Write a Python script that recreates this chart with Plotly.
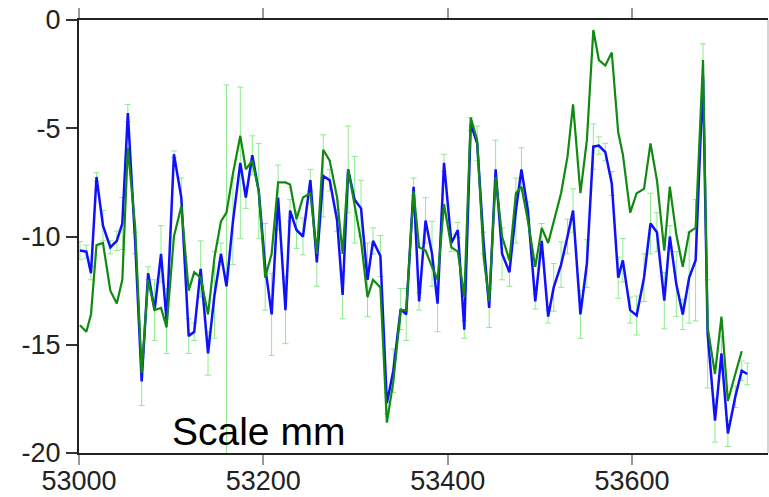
import plotly.graph_objects as go

# Epoch (MJD) of each sample
mjd = [
    53001, 53008, 53013, 53019, 53026, 53034, 53041, 53047, 53053, 53061,
    53068, 53075, 53082, 53089, 53095, 53103, 53111, 53119, 53125, 53132,
    53140, 53147, 53154, 53160, 53167,
    53175, 53181, 53188, 53195, 53202, 53209, 53216, 53224, 53229, 53236,
    53243, 53251, 53258, 53265, 53272, 53280, 53286, 53292, 53299, 53306,
    53313, 53319, 53327, 53334, 53341, 53349,
    53355, 53363, 53369, 53376, 53383, 53389, 53396, 53404, 53411, 53418,
    53425, 53432, 53439, 53445, 53452, 53459, 53467, 53474, 53480, 53487,
    53495, 53502, 53509, 53515, 53523, 53530,
    53536, 53544, 53551, 53558, 53564, 53571, 53578, 53585, 53590, 53598,
    53605, 53613, 53620, 53627, 53635, 53641, 53648, 53655, 53662, 53669,
    53677, 53682, 53690, 53697, 53704, 53712, 53719, 53725,
]

# Measured offset (mm)
measured = [
    -10.65, -10.7, -11.7, -7.25, -9.5, -10.5, -10.2, -9.4, -4.3, -10.3,
    -16.7, -11.7, -13.4, -10.8, -13.9, -6.2, -8.2, -14.6, -14.4, -11.5,
    -15.4, -12.7, -10.8, -12.3, -9.3,
    -6.6, -8.2, -6.25, -7.9, -11.4, -13.6, -8.2, -13.4, -8.8, -9.7,
    -10.0, -7.4, -11.2, -7.2, -7.4, -9.26, -12.7, -6.9, -8.3, -8.7,
    -12.0, -10.2, -10.9, -17.7, -16.2, -13.35,
    -13.6, -7.7, -13.0, -9.26, -10.8, -13.1, -6.6, -10.3, -9.7, -14.3,
    -4.8, -5.7, -10.3, -13.3, -6.9, -10.8, -11.65, -8.8, -6.9, -8.8,
    -13.0, -10.2, -13.7, -12.35, -11.3, -10.0,
    -8.8, -13.6, -11.25, -5.85, -5.8, -6.1, -7.55, -11.9, -11.1, -13.4,
    -13.65, -11.9, -9.4, -9.8, -12.96, -10.0, -12.2, -13.6, -11.9, -11.1,
    -2.6, -14.5, -18.5, -15.4, -19.1, -17.4, -16.2, -16.35,
]

# Model offset (mm)
model = [
    -14.1, -14.4, -13.6, -10.4, -10.3, -12.5, -13.1, -12.0, -5.9, -9.6,
    -16.3, -12.0, -13.4, -13.3, -14.2, -10.0, -8.6, -12.5, -11.65, -11.9,
    -13.6, -10.95, -9.3, -8.9, -7.1,
    -5.35, -6.9, -6.5, -7.9, -11.9, -10.8, -7.5, -7.5, -7.6, -9.2,
    -8.2, -8.0, -10.8, -6.0, -6.5, -8.2, -10.8, -6.9, -8.6, -10.2,
    -12.8, -12.0, -12.35, -18.6, -16.7, -13.4,
    -13.4, -7.9, -10.5, -10.65, -11.4, -12.0, -8.5, -10.5, -10.7, -12.8,
    -4.5, -5.55, -10.95, -13.0, -7.25, -10.0, -11.1, -8.0, -7.7, -9.26,
    -11.4, -9.6, -10.3, -9.26, -8.0, -6.3,
    -3.9, -8.0, -5.55, -0.46, -1.85, -2.1, -1.5, -5.2, -6.2, -8.9,
    -8.0, -7.8, -5.7, -7.4, -10.65, -7.7, -9.9, -11.4, -9.8, -9.6,
    -1.85, -14.2, -16.35, -13.7, -17.6, -16.35, -15.3, None,
]

# One-sigma uncertainty of the measured offset (mm)
sigma = [
    0.42, 0.3, 0.3, 0.2, 0.7, 0.3, 0.45, 1.2, 0.4, 0.5,
    1.1, 0.3, 1.4, 1.3, 1.5, 0.15, 0.9, 0.8, 0.4, 1.3,
    1.0, 2.0, 0.5, 9.3, 2.0,
    3.5, 0.5, 0.9, 2.2, 2.0, 1.9, 1.5, 1.55, 0.5, 0.85,
    0.85, 0.5, 1.1, 1.9, 0.5, 0.5, 1.1, 2.0, 2.0, 1.3,
    1.7, 0.6, 0.95, 0.5, 1.0, 0.95,
    1.2, 0.4, 0.4, 1.05, 1.5, 1.3, 0.4, 0.4, 0.35, 0.4,
    0.3, 0.8, 0.5, 0.9, 1.35, 1.2, 0.65, 1.5, 1.0, 0.4,
    0.35, 0.8, 0.3, 1.1, 1.05, 0.8,
    1.0, 1.1, 1.1, 1.05, 0.4, 0.4, 0.55, 0.95, 1.0, 0.6,
    0.9, 1.1, 1.4, 0.9, 1.3, 0.5, 1.5, 0.7, 2.1, 2.8,
    1.5, 2.5, 1.0, 0.8, 0.6, 0.5, 0.45, 0.5,
]

x_ticks = [53000, 53200, 53400, 53600]
x_tick_text = ["53000", "53200", "53400", "53600"]
y_ticks = [0, -5, -10, -15, -20]
y_tick_text = ["0", "-5", "-10", "-15", "-20"]
label = "Scale mm"

FONT = "Liberation Sans, Arial, Helvetica, sans-serif"

fig = go.Figure()

# uncertainty bars underneath both curves
fig.add_trace(go.Scatter(
    x=mjd, y=measured, mode="markers",
    marker=dict(size=0.1, color="rgba(0,0,0,0)"),
    error_y=dict(type="data", array=sigma, visible=True,
                 color="#8fea8f", thickness=1, width=3),
    hoverinfo="skip", showlegend=False,
))

fig.add_trace(go.Scatter(
    x=mjd, y=measured, mode="lines",
    line=dict(color="#1010ff", width=2.5),
    showlegend=False,
))

fig.add_trace(go.Scatter(
    x=mjd, y=model, mode="lines",
    line=dict(color="#118a11", width=2.2),
    connectgaps=False, showlegend=False,
))

fig.add_annotation(
    text=label, xref="paper", yref="paper",
    x=0.2605, y=0.05, xanchor="center", yanchor="middle",
    showarrow=False, font=dict(family=FONT, size=39, color="#000"),
)

# thin frame on the right side
fig.add_shape(type="line", xref="paper", yref="paper",
              x0=1, x1=1, y0=0, y1=1,
              line=dict(color="#aaaaaa", width=1))

fig.update_layout(
    width=769, height=497,
    margin=dict(l=79, r=1, t=20, b=44, autoexpand=False),
    paper_bgcolor="white", plot_bgcolor="white",
    font=dict(family=FONT, size=27, color="#222"),
    xaxis=dict(
        range=[53000, 53747.5], tickvals=x_ticks, ticktext=x_tick_text,
        ticks="outside", ticklen=10, tickwidth=2, tickcolor="#999",
        showline=True, linecolor="#222", linewidth=2, mirror="ticks",
        showgrid=False, zeroline=False, ticklabelstandoff=-7,
        automargin=False,
        tickfont=dict(family=FONT, size=27, color="#222"),
    ),
    yaxis=dict(
        range=[-20, 0], tickvals=y_ticks, ticktext=y_tick_text,
        ticks="outside", ticklen=11, tickwidth=2, tickcolor="#333",
        showline=True, linecolor="#222", linewidth=2, mirror=False,
        showgrid=False, zeroline=False, ticklabelstandoff=0,
        automargin=False,
        tickfont=dict(family=FONT, size=27, color="#222"),
    ),
)

fig.write_html("out.html")
